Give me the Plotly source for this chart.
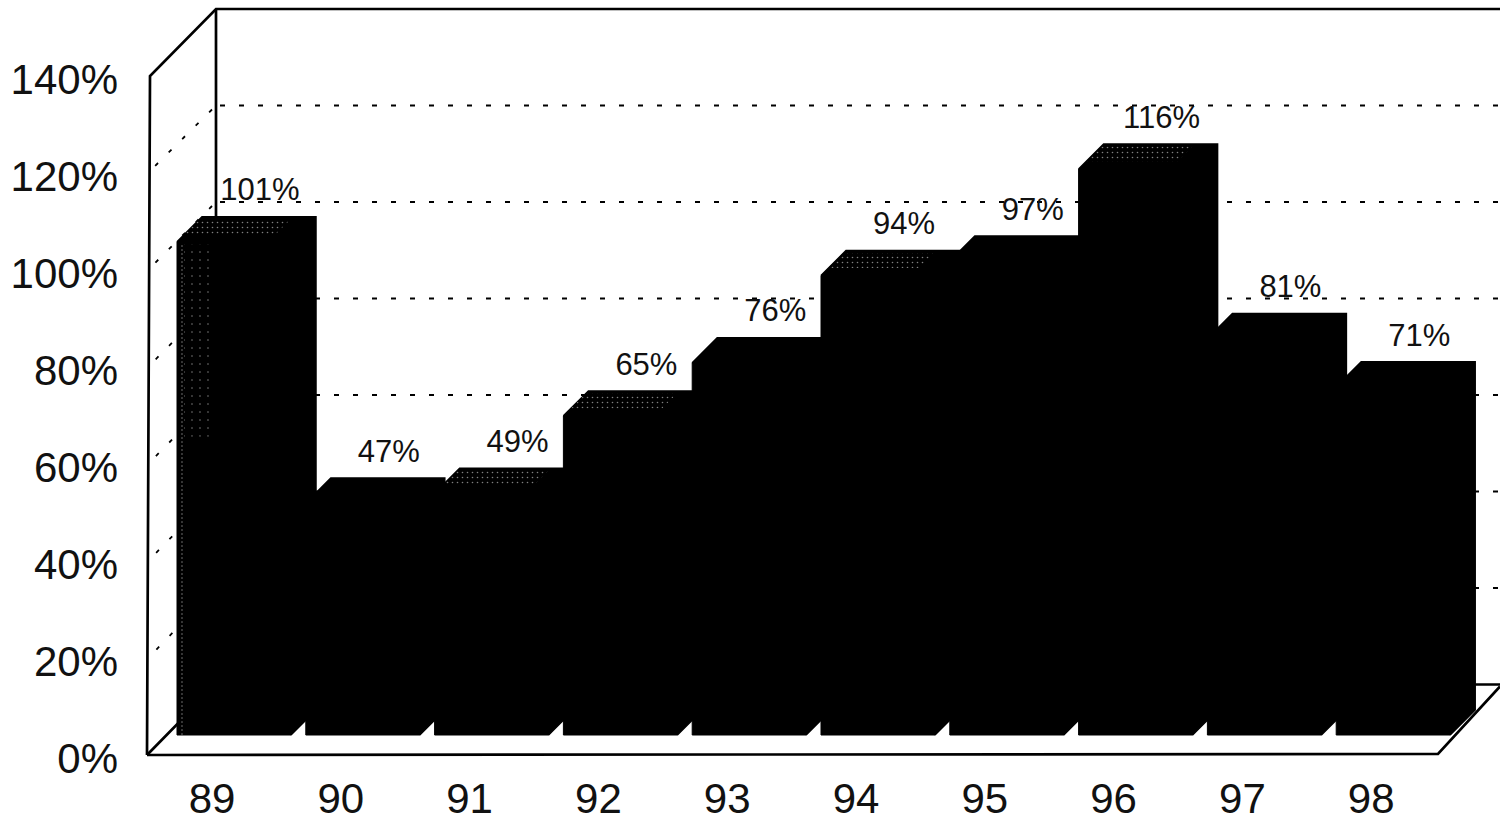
import plotly.graph_objects as go

# ---------- data ----------
years = ["89", "90", "91", "92", "93", "94", "95", "96", "97", "98"]
values = [101, 47, 49, 65, 76, 94, 97, 116, 81, 71]
y_ticks = [0, 20, 40, 60, 80, 100, 120, 140]
speckled_tops = [0, 2, 3, 5, 7]

# ---------- pseudo-3D projection constants ----------
W, H = 1500, 819
L, B = 140, 59          # plot area slightly larger than the drawn frame
AX_L, AX_B = 147, 64    # frame origin, measured from the page's left and bottom
PX_X = 128.8
PX_Y = 4.85
X0_PX = 212
xmin = (L - X0_PX) / PX_X
xmax = (W - X0_PX) / PX_X
ymin = -(AX_B - B) / PX_Y
ymax = (H - AX_B) / PX_Y
dx_px = lambda p: p / PX_X
dy_px = lambda p: p / PX_Y

bar_off = dx_px(22)
bar_w = dx_px(114)
depth_x = dx_px(25)
depth_y = dy_px(25)
base = dy_px(20)
idx = list(range(len(years)))
front_top = [v * 4.84 / PX_Y + dy_px(24.5) for v in values]

# walls
wall_back = lambda v: v * 4.825 / PX_Y + dy_px(70.5)
x_front_bot = (AX_L - X0_PX) / PX_X
x_front_top = x_front_bot + dx_px(3)
x_back = x_front_bot + dx_px(69)
front_right = x_front_bot + dx_px(1291)

fig = go.Figure()

# frame (base subplot, beneath the bars)
frame_x = [x_front_bot, x_front_top, x_back, xmax, None,
           x_back, x_back, None,
           x_front_bot, x_back, xmax, None,
           x_front_bot, front_right, xmax]
frame_y = [0, 140, wall_back(140), wall_back(140), None,
           wall_back(140), wall_back(0), None,
           0, wall_back(0), wall_back(0), None,
           0, dy_px(1), wall_back(0) - dy_px(2)]
fig.add_trace(go.Scatter(x=frame_x, y=frame_y, mode="lines",
                         line=dict(color="black", width=2.7), hoverinfo="skip", showlegend=False))

# dotted grid on back wall and left wall
gx, gy = [], []
for t in y_ticks[1:-1]:
    gx += [x_back + dx_px(4), xmax, None]
    gy += [wall_back(t), wall_back(t), None]
fig.add_trace(go.Scatter(x=gx, y=gy, mode="lines", line=dict(color="black", width=1.8, dash="5px,14px"),
                         hoverinfo="skip", showlegend=False))
sx, sy = [], []
for t in y_ticks[1:-1]:
    sx += [x_back - dx_px(4), x_front_bot + dx_px(6), None]
    sy += [wall_back(t) - dy_px(4), t + dy_px(5), None]
fig.add_trace(go.Scatter(x=sx, y=sy, mode="lines", line=dict(color="black", width=1.8, dash="4px,15px"),
                         hoverinfo="skip", showlegend=False))

# bars (overlay subplot)
fig.add_trace(go.Bar(x=[i + bar_off for i in idx], y=[t - base for t in front_top], base=base,
                     width=bar_w, marker=dict(color="black", line=dict(color="black", width=1)),
                     xaxis="x2", yaxis="y2", hoverinfo="skip", showlegend=False))

# side + top faces derived from the values
px, py = [], []
for i, t in zip(idx, front_top):
    xl = i + bar_off - bar_w / 2
    xr = i + bar_off + bar_w / 2
    px += [xl, xl + depth_x, xr + depth_x, xr + depth_x, xr, xr, xl, None]
    py += [t, t + depth_y, t + depth_y, base + depth_y, base, t, t, None]
fig.add_trace(go.Scatter(x=px, y=py, mode="lines", fill="toself", fillcolor="black",
                         line=dict(color="black", width=1.5), xaxis="x2", yaxis="y2",
                         hoverinfo="skip", showlegend=False))

# speckle on the lit top faces
tx, ty = [], []
for i in speckled_tops:
    t = front_top[i]
    xl = i + bar_off - bar_w / 2
    xr = xl + bar_w * 0.8
    tx += [xl + depth_x * 0.3, xl + depth_x * 0.9, xr + depth_x * 0.9, xr + depth_x * 0.3, xl + depth_x * 0.3, None]
    ty += [t + depth_y * 0.3, t + depth_y * 0.9, t + depth_y * 0.9, t + depth_y * 0.3, t + depth_y * 0.3, None]
fig.add_trace(go.Scatter(x=tx, y=ty, mode="none", fill="toself",
                         fillpattern=dict(shape=".", bgcolor="#000000", fgcolor="#ffffff", size=5, solidity=0.08),
                         xaxis="x2", yaxis="y2", hoverinfo="skip", showlegend=False))

# speckle on the left of the first bar's front: a narrow strip and a sparser patch
t0 = front_top[0]
x0 = bar_off - bar_w / 2
fig.add_trace(go.Scatter(x=[x0 + dx_px(2), x0 + dx_px(7), x0 + dx_px(7), x0 + dx_px(2), x0 + dx_px(2)],
                         y=[base, base, t0 - dy_px(3), t0 - dy_px(3), base],
                         mode="none", fill="toself",
                         fillpattern=dict(shape=".", bgcolor="#000000", fgcolor="#ffffff", size=4, solidity=0.12),
                         xaxis="x2", yaxis="y2", hoverinfo="skip", showlegend=False))
fig.add_trace(go.Scatter(x=[x0 + dx_px(7), x0 + dx_px(34), x0 + dx_px(34), x0 + dx_px(7), x0 + dx_px(7)],
                         y=[t0 * 0.62, t0 * 0.62, t0 - dy_px(3), t0 - dy_px(3), t0 * 0.62],
                         mode="none", fill="toself",
                         fillpattern=dict(shape=".", bgcolor="#000000", fgcolor="#ffffff", size=8, solidity=0.03),
                         xaxis="x2", yaxis="y2", hoverinfo="skip", showlegend=False))

# value labels
fig.add_trace(go.Scatter(x=[i + bar_off + depth_x + dx_px(1) for i in idx],
                         y=[t + depth_y + dy_px(24) for t in front_top],
                         mode="text", text=[f"{v}%" for v in values], textposition="middle center",
                         textfont=dict(family="Liberation Sans", size=31, color="#111111"),
                         xaxis="x2", yaxis="y2", cliponaxis=False, hoverinfo="skip", showlegend=False))

font = dict(family="Liberation Sans", size=42, color="#111111")
fig.update_layout(
    width=W, height=H, margin=dict(l=L, r=0, t=0, b=B, pad=0, autoexpand=False),
    paper_bgcolor="white", plot_bgcolor="white", showlegend=False, barmode="overlay",
    xaxis=dict(range=[xmin, xmax], tickvals=idx, ticktext=years, showgrid=False, zeroline=False,
               showline=False, ticks="", tickfont=font, ticklabelstandoff=10, automargin=False),
    yaxis=dict(range=[ymin, ymax], tickvals=y_ticks, ticktext=[f"{t}%" for t in y_ticks], showgrid=False,
               zeroline=False, showline=False, ticks="", tickfont=font, ticklabelstandoff=21,
               ticklabelshift=3, automargin=False),
    xaxis2=dict(range=[xmin, xmax], overlaying="x", visible=False),
    yaxis2=dict(range=[ymin, ymax], overlaying="y", visible=False),
)
fig.write_html("out.html", config=dict(displayModeBar=False), post_script="document.body.style.margin='0';")
